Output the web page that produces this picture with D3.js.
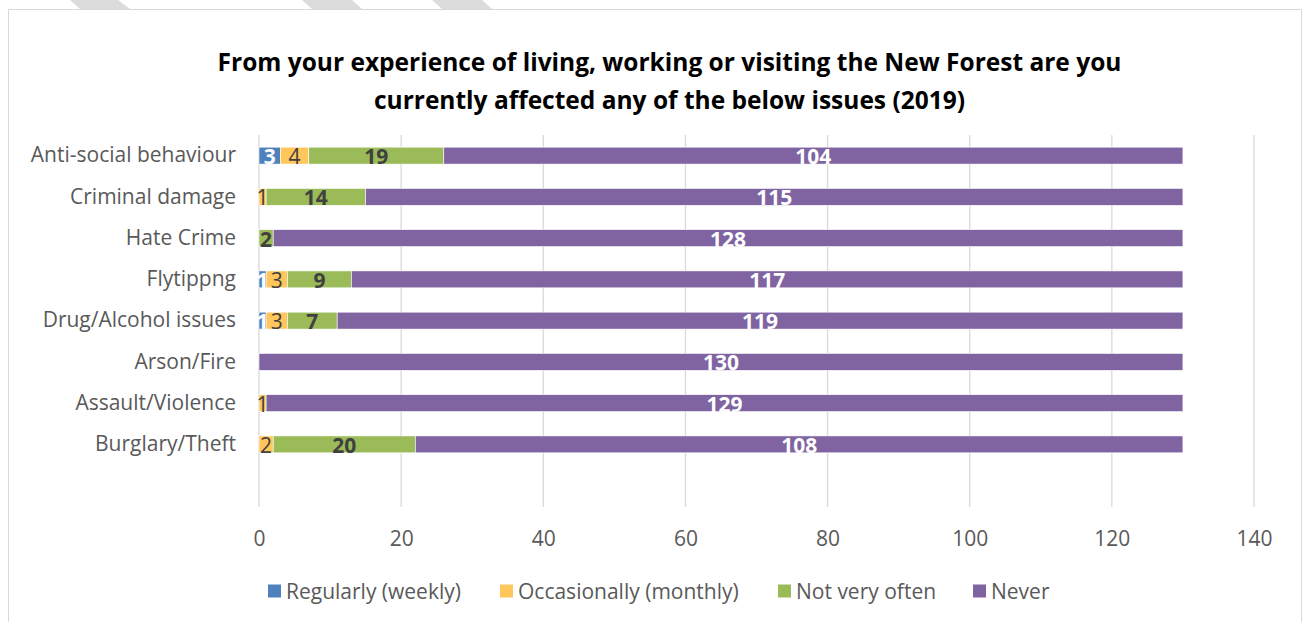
<!DOCTYPE html>
<html>
<head>
<meta charset="utf-8">
<script src="https://cdn.jsdelivr.net/npm/d3@7"></script>
<style>
  body { margin: 0; background: #fff; }
  text { font-family: "Open Sans", sans-serif; }
</style>
</head>
<body>
<svg id="chart"></svg>
<script>
// data
const categories = ['Anti-social behaviour', 'Criminal damage', 'Hate Crime', 'Flytippng',
  'Drug/Alcohol issues', 'Arson/Fire', 'Assault/Violence', 'Burglary/Theft'];
const seriesNames = ['Regularly (weekly)', 'Occasionally (monthly)', 'Not very often', 'Never'];
const regularly = [3, 0, 0, 1, 1, 0, 0, 0];
const occasionally = [4, 1, 0, 3, 3, 0, 1, 2];
const notVeryOften = [19, 14, 2, 9, 7, 0, 0, 20];
const never = [104, 115, 128, 117, 119, 130, 129, 108];
const xTicks = [0, 20, 40, 60, 80, 100, 120, 140];
const titleLines = ['From your experience of living, working or visiting the New Forest are you',
  'currently affected any of the below issues (2019)'];

const colors = ['#4f81bd', '#ffc65c', '#9bbb59', '#8064a2'];
// label style per series: [fill, weight]
const labelStyle = [['#fff', 'bold'], ['#404040', 'normal'], ['#404040', 'bold'], ['#fff', 'bold']];

let w = 1307;
let h = 622;
let fontSize = 21;

let svg = d3.select('#chart')
  .attr('width', w)
  .attr('height', h);

// grey stripes peeking above the frame
[[70, 118, 130, 80], [302, 352, 362, 312], [432, 482, 492, 442]].forEach((s) => {
  svg.append('polygon')
    .attr('points', `${s[0]},0 ${s[1]},0 ${s[2]},9 ${s[3]},9`)
    .attr('fill', '#dcdcdc');
});

// chart frame
svg.append('rect')
  .attr('x', 8.5)
  .attr('y', 9.5)
  .attr('width', 1293)
  .attr('height', 640)
  .attr('fill', '#fff')
  .attr('stroke', '#d9d9d9');

// table of rows for the stack
let rows = categories.map((c, i) => ({
  cat: c,
  s0: regularly[i], s1: occasionally[i], s2: notVeryOften[i], s3: never[i]
}));
let keys = ['s0', 's1', 's2', 's3'];
let stacked = d3.stack().keys(keys)(rows);

let xScale = d3.scaleLinear()
  .domain([0, 140])
  .range([259, 1254]);

let yScale = d3.scaleBand()
  .domain(categories)
  .range([135, 465])
  .paddingInner(0.59)
  .paddingOuter(0.295);

let plotTop = 135;
let plotBottom = 507;

// gridlines
svg.append('g')
  .selectAll('line')
  .data(xTicks)
  .enter()
  .append('line')
  .attr('x1', (d) => xScale(d))
  .attr('x2', (d) => xScale(d))
  .attr('y1', plotTop)
  .attr('y2', plotBottom)
  .attr('stroke', '#d9d9d9')
  .attr('stroke-width', 1.3);

// bars
svg.append('g')
  .selectAll('g')
  .data(stacked)
  .enter()
  .append('g')
  .attr('fill', (d, i) => colors[i])
  .selectAll('rect')
  .data((d) => d)
  .enter()
  .append('rect')
  .attr('x', (d) => xScale(d[0]))
  .attr('y', (d) => yScale(d.data.cat))
  .attr('width', (d) => xScale(d[1]) - xScale(d[0]))
  .attr('height', yScale.bandwidth())
  .attr('stroke', '#fff')
  .attr('stroke-width', 0.6);

// data labels
stacked.forEach((layer, si) => {
  svg.append('g')
    .selectAll('text')
    .data(layer.filter((d) => d[1] - d[0] > 0))
    .enter()
    .append('text')
    .attr('x', (d) => xScale((d[0] + d[1]) / 2))
    .attr('y', (d) => yScale(d.data.cat) + yScale.bandwidth() / 2 + 1)
    .attr('dy', '0.36em')
    .attr('text-anchor', 'middle')
    .attr('font-size', fontSize)
    .attr('font-weight', labelStyle[si][1])
    .attr('fill', labelStyle[si][0])
    .text((d) => d[1] - d[0]);
});

// y axis (category labels)
let yAxis = svg.append('g')
  .attr('transform', 'translate(236,0)')
  .call(d3.axisLeft(yScale).tickSize(0).tickPadding(0));
yAxis.select('.domain').remove();
yAxis.selectAll('text')
  .attr('font-family', '"Open Sans", sans-serif')
  .attr('font-size', fontSize)
  .attr('fill', '#595959');

// x axis (tick labels only)
let xAxis = svg.append('g')
  .attr('transform', `translate(0, ${plotBottom})`)
  .call(d3.axisBottom(xScale).tickValues(xTicks).tickSize(0).tickPadding(24));
xAxis.select('.domain').remove();
xAxis.selectAll('text')
  .attr('font-family', '"Open Sans", sans-serif')
  .attr('font-size', fontSize)
  .attr('fill', '#595959');

// title
svg.append('text')
  .attr('x', 669.5)
  .attr('y', 71)
  .attr('text-anchor', 'middle')
  .attr('font-size', 24.5)
  .attr('font-weight', 'bold')
  .attr('fill', '#000')
  .selectAll('tspan')
  .data(titleLines)
  .enter()
  .append('tspan')
  .attr('x', 669.5)
  .attr('dy', (d, i) => i === 0 ? 0 : 38)
  .text((d) => d);

// legend
let legendX = [268, 500, 778, 973];
let legend = svg.append('g')
  .selectAll('g')
  .data(seriesNames)
  .enter()
  .append('g')
  .attr('transform', (d, i) => `translate(${legendX[i]}, 591)`);
legend.append('rect')
  .attr('x', 0)
  .attr('y', -6.5)
  .attr('width', 13)
  .attr('height', 13)
  .attr('fill', (d, i) => colors[i]);
legend.append('text')
  .attr('x', 18)
  .attr('y', 0)
  .attr('dy', '0.36em')
  .attr('font-size', fontSize)
  .attr('fill', '#595959')
  .text((d) => d);
</script>
</body>
</html>
